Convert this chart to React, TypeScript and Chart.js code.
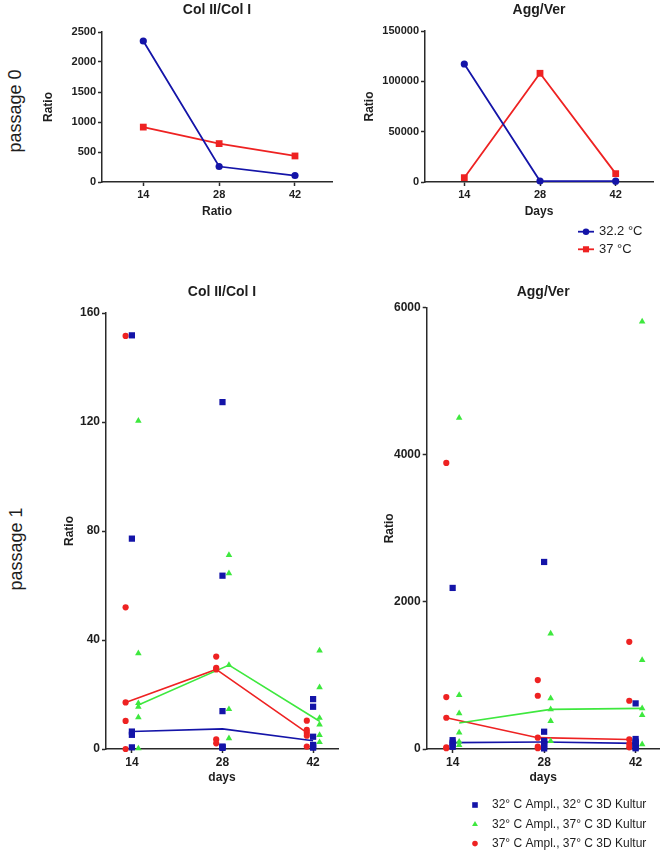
import React, { useEffect, useRef } from 'react';
import { Chart, registerables } from 'chart.js';
import { drawPoint } from 'chart.js/helpers';

Chart.register(...registerables);

const FONT = '"Liberation Sans", Arial, Helvetica, sans-serif';
const TEXT = '#1e1e1e';
const AXIS = '#2a2a2a';
const BLUE = '#1414a8';
const RED = '#ee2222';
const GREEN = '#3ee83e';

// ---------------- data ----------------
const days = [14, 28, 42];

// passage 0
const p0Labels = ['32.2 °C', '37 °C'];
const p0Col32 = [2350, 258, 108];
const p0Col37 = [915, 640, 434];
const p0Agg32 = [117200, 1000, 800];
const p0Agg37 = [4300, 108000, 8300];
const p0ColTicks = [0, 500, 1000, 1500, 2000, 2500];
const p0AggTicks = [0, 50000, 100000, 150000];

// passage 1 (individual samples per day: 14, 28, 42)
const p1Labels = [
  '32° C Ampl., 32° C 3D Kultur',
  '32° C Ampl., 37° C 3D Kultur',
  '37° C Ampl., 37° C 3D Kultur',
];
const p1Col_32_32 = [
  [151.8, 77.2, 6.4, 5.2, 0.6],
  [127.3, 63.6, 13.9, 0.9, 0.7, 0.4],
  [18.3, 15.5, 4.5, 1.5, 1.2, 0.5],
];
const p1Col_32_37 = [
  [120.4, 35.1, 16.8, 15.5, 11.6, 0.2],
  [71.2, 64.5, 30.8, 14.6, 3.9],
  [36.1, 22.6, 11.4, 9.0, 5.1, 2.5],
];
const p1Col_37_37 = [
  [151.6, 52.0, 17.1, 10.3, 0],
  [33.9, 29.8, 29.2, 3.5, 2.1],
  [10.4, 7.0, 6.0, 4.9, 0.9],
];
const p1Agg_32_32 = [
  [2190, 120, 86, 60, 30],
  [2543, 235, 110, 95, 60, 30, 8],
  [620, 136, 100, 77, 54, 23, 10],
];
const p1Agg_32_37 = [
  [4502, 733, 484, 222, 99, 54],
  [1570, 688, 539, 380, 108],
  [5810, 1208, 552, 462, 64],
];
const p1Agg_37_37 = [
  [3890, 706, 425, 23, 10],
  [937, 724, 154, 31, 10],
  [1457, 656, 130, 68, 23],
];
const p1ColTicks = [0, 40, 80, 120, 160];
const p1AggTicks = [0, 2000, 4000, 6000];

// horizontal shift (in days) of each passage-1 group around its day
const SHIFT = [0, 1.0, -0.97];

// ---------------- helpers ----------------
function median(arr: number[]) {
  const s = [...arr].sort((a, b) => a - b);
  const n = s.length;
  return n % 2 ? s[(n - 1) / 2] : (s[n / 2 - 1] + s[n / 2]) / 2;
}

const panelTitle = {
  id: 'panelTitle',
  afterDraw(chart: any, _a: any, opts: any) {
    if (!opts || !opts.text) return;
    const { ctx, chartArea } = chart;
    ctx.save();
    ctx.font = `bold ${opts.size}px ${FONT}`;
    ctx.fillStyle = TEXT;
    ctx.textAlign = 'center';
    ctx.textBaseline = 'middle';
    ctx.fillText(opts.text, (chartArea.left + chartArea.right) / 2, opts.y);
    ctx.restore();
  },
};

const sideLegend = {
  id: 'sideLegend',
  afterDraw(chart: any, _a: any, opts: any) {
    if (!opts || !opts.items) return;
    const ctx = chart.ctx;
    ctx.save();
    opts.items.forEach((dsIndex: number, i: number) => {
      const ds = chart.data.datasets[dsIndex];
      const y = opts.y + i * opts.rowHeight;
      if (opts.lineHalf) {
        ctx.strokeStyle = ds.borderColor;
        ctx.lineWidth = ds.borderWidth || 1.5;
        ctx.beginPath();
        ctx.moveTo(opts.x - opts.lineHalf, y);
        ctx.lineTo(opts.x + opts.lineHalf, y);
        ctx.stroke();
      }
      ctx.fillStyle = ds.pointBackgroundColor;
      ctx.strokeStyle = ds.pointBackgroundColor;
      const r = ds.pointRadius * (opts.scale ?? 1);
      drawPoint(ctx, { pointStyle: ds.pointStyle, radius: r, rotation: 0, borderWidth: 0 } as any, opts.x, y);
      ctx.fillStyle = TEXT;
      ctx.font = `${opts.size}px ${FONT}`;
      ctx.textAlign = 'left';
      ctx.textBaseline = 'middle';
      ctx.fillText(ds.label, opts.textX, y);
    });
    ctx.restore();
  },
};

function xAxis(min: number, max: number, title: string, tickSize: number, height: number, titlePad: number) {
  return {
    type: 'linear',
    position: 'bottom',
    min,
    max,
    afterBuildTicks: (s: any) => {
      s.ticks = days.map((v) => ({ value: v }));
    },
    afterFit: (s: any) => {
      s.height = height;
    },
    ticks: {
      callback: (v: any) => String(v),
      font: { family: FONT, size: tickSize, weight: 'bold' },
      color: TEXT,
      padding: 2,
      maxRotation: 0,
      autoSkip: false,
    },
    grid: { drawOnChartArea: false, drawTicks: true, tickLength: 4, tickColor: AXIS, tickWidth: 1.5 },
    border: { display: true, color: AXIS, width: 1.5 },
    title: {
      display: true,
      text: title,
      color: TEXT,
      font: { family: FONT, size: 12, weight: 'bold' },
      padding: { top: 0, bottom: titlePad },
    },
  };
}

function yAxis(ticks: number[], tickSize: number, width: number, titleX: number) {
  return {
    type: 'linear',
    position: 'left',
    min: ticks[0],
    max: ticks[ticks.length - 1],
    afterBuildTicks: (s: any) => {
      s.ticks = ticks.map((v) => ({ value: v }));
    },
    afterFit: (s: any) => {
      s.width = width;
    },
    ticks: {
      callback: (v: any) => String(v),
      font: { family: FONT, size: tickSize, weight: 'bold' },
      color: TEXT,
      padding: 2,
      autoSkip: false,
    },
    grid: { drawOnChartArea: false, drawTicks: true, tickLength: 4, tickColor: AXIS, tickWidth: 1.5 },
    border: { display: true, color: AXIS, width: 1.5 },
    title: {
      display: true,
      text: 'Ratio',
      color: TEXT,
      font: { family: FONT, size: 12, weight: 'bold' },
      padding: { top: titleX - 7.2, bottom: 0 },
    },
  };
}

function baseOptions(padding: any, x: any, y: any, plugins: any) {
  return {
    responsive: false,
    animation: false,
    events: [],
    layout: { padding },
    scales: { x, y },
    plugins: {
      legend: { display: false },
      title: { display: false },
      tooltip: { enabled: false },
      ...plugins,
    },
  };
}

function p0Datasets(a: number[], b: number[]) {
  return [
    {
      label: p0Labels[0],
      data: days.map((d, i) => ({ x: d, y: a[i] })),
      showLine: true,
      borderColor: BLUE,
      borderWidth: 1.8,
      pointStyle: 'circle',
      pointRadius: 3.6,
      pointBackgroundColor: BLUE,
      pointBorderWidth: 0,
      clip: false,
    },
    {
      label: p0Labels[1],
      data: days.map((d, i) => ({ x: d, y: b[i] })),
      showLine: true,
      borderColor: RED,
      borderWidth: 1.8,
      pointStyle: 'rect',
      pointRadius: 4.8,
      pointBackgroundColor: RED,
      pointBorderWidth: 0,
      clip: false,
    },
  ];
}

const p1Styles = [
  { color: BLUE, style: 'rect', radius: 4.4 },
  { color: GREEN, style: 'triangle', radius: 3.8 },
  { color: RED, style: 'circle', radius: 3.1 },
];

function p1Datasets(groups: number[][][]) {
  const pts = groups.map((g, gi) => ({
    label: p1Labels[gi],
    data: g.flatMap((vals, di) => vals.map((v) => ({ x: days[di] + SHIFT[gi], y: v }))),
    showLine: false,
    pointStyle: p1Styles[gi].style,
    pointRadius: p1Styles[gi].radius,
    pointBackgroundColor: p1Styles[gi].color,
    pointBorderWidth: 0,
    borderColor: p1Styles[gi].color,
    clip: false,
  }));
  const lines = groups.map((g, gi) => ({
    label: '',
    data: g.map((vals, di) => ({ x: days[di] + SHIFT[gi], y: median(vals) })),
    showLine: true,
    pointRadius: 0,
    borderColor: p1Styles[gi].color,
    borderWidth: 1.6,
    clip: false,
  }));
  return [...pts, ...lines];
}

// ---------------- components ----------------
function ChartCanvas(props: { left: number; top: number; width: number; height: number; build: () => any }) {
  const ref = useRef<HTMLCanvasElement>(null);
  useEffect(() => {
    const chart = new Chart(ref.current as HTMLCanvasElement, props.build());
    return () => chart.destroy();
  }, []);
  const { left, top, width, height } = props;
  return (
    <canvas
      ref={ref}
      width={width}
      height={height}
      style={{ position: 'absolute', left, top, width, height }}
    />
  );
}

function SideLabel(props: { text: string; x: number; y: number }) {
  return (
    <div
      style={{
        position: 'absolute',
        left: props.x,
        top: props.y,
        transform: 'translate(-50%, -50%) rotate(-90deg)',
        whiteSpace: 'nowrap',
        fontFamily: FONT,
        fontSize: 18,
        color: TEXT,
        lineHeight: 1,
      }}
    >
      {props.text}
    </div>
  );
}

export default function App() {
  const buildA = () => ({
    type: 'scatter',
    data: { datasets: p0Datasets(p0Col32, p0Col37) },
    plugins: [panelTitle],
    options: baseOptions(
      { top: 32, right: 8, bottom: 0, left: 0 },
      xAxis(6.38, 48.83, 'Ratio', 11, 43, 6.1),
      yAxis(p0ColTicks, 11, 102, 48.5),
      { panelTitle: { text: 'Col II/Col I', y: 10, size: 14 } }
    ),
  });
  const buildB = () => ({
    type: 'scatter',
    data: { datasets: p0Datasets(p0Agg32, p0Agg37) },
    plugins: [panelTitle, sideLegend],
    options: baseOptions(
      { top: 31, right: 11, bottom: 35, left: 0 },
      xAxis(6.73, 48.9, 'Days', 11, 43, 6.1),
      yAxis(p0AggTicks, 11, 95, 40),
      {
        panelTitle: { text: 'Agg/Ver', y: 10, size: 14 },
        sideLegend: { items: [0, 1], x: 256, y: 231.7, rowHeight: 17.6, lineHalf: 8, textX: 269, size: 13, scale: 0.9 },
      }
    ),
  });
  const buildC = () => ({
    type: 'scatter',
    data: { datasets: p1Datasets([p1Col_32_32, p1Col_32_37, p1Col_37_37]) },
    plugins: [panelTitle],
    options: baseOptions(
      { top: 43, right: 7, bottom: 0, left: 0 },
      xAxis(10, 45.85, 'days', 12, 41, 4.8),
      yAxis(p1ColTicks, 12, 106, 70),
      { panelTitle: { text: 'Col II/Col I', y: 22, size: 14 } }
    ),
  });
  const buildD = () => ({
    type: 'scatter',
    data: { datasets: p1Datasets([p1Agg_32_32, p1Agg_32_37, p1Agg_37_37]) },
    plugins: [panelTitle, sideLegend],
    options: baseOptions(
      { top: 37.7, right: 4, bottom: 63, left: 0 },
      xAxis(10.03, 45.67, 'days', 12, 41, 4.8),
      yAxis(p1AggTicks, 12, 96.7, 60),
      {
        panelTitle: { text: 'Agg/Ver', y: 22, size: 14 },
        sideLegend: { items: [0, 1, 2], x: 145, y: 535, rowHeight: 19.3, lineHalf: 0, textX: 162, size: 12, scale: 0.9 },
      }
    ),
  });

  return (
    <div style={{ position: 'absolute', left: 0, top: 0, width: 664, height: 853, background: '#fff', overflow: 'hidden' }}>
      <SideLabel text="passage 0" x={15} y={111} />
      <SideLabel text="passage 1" x={16} y={549} />
      <ChartCanvas left={0} top={0} width={340} height={225} build={buildA} />
      <ChartCanvas left={330} top={0} width={334} height={260} build={buildB} />
      <ChartCanvas left={0} top={270} width={345} height={520} build={buildC} />
      <ChartCanvas left={330} top={270} width={334} height={583} build={buildD} />
    </div>
  );
}
